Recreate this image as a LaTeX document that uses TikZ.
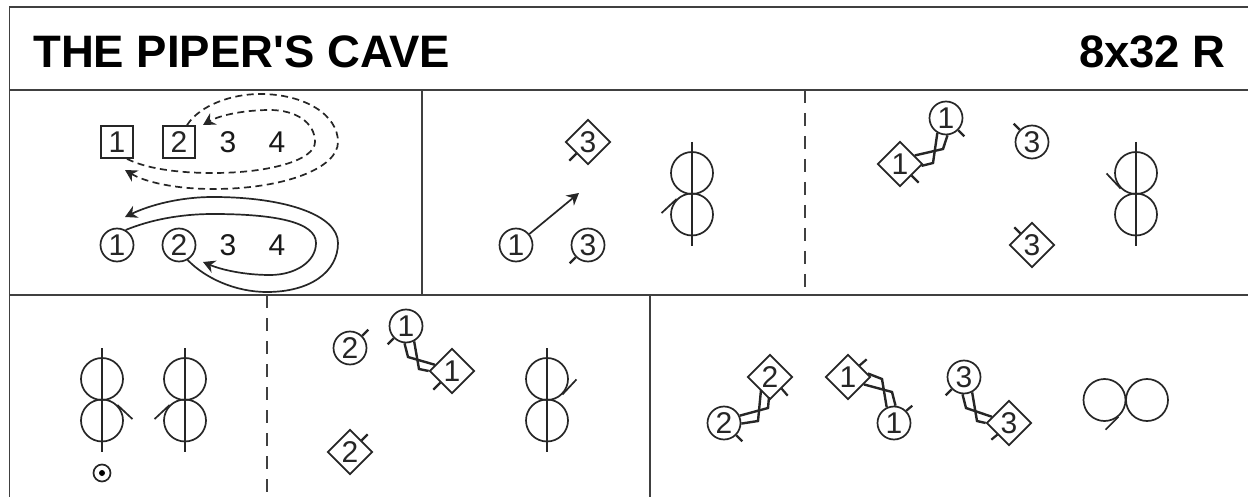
\documentclass[tikz,border=0pt]{standalone}
\usepackage{fontspec}
\setmainfont{Liberation Sans}
\newfontfamily\plainsans{Liberation Sans}
\usetikzlibrary{shapes.geometric,arrows.meta}
\tikzset{
  x=1pt,y=-1pt,
  ln/.style={line width=1.7pt,black!85},
  frameline/.style={line width=1.8pt,black!75},
  vdash/.style={line width=1.6pt,black!75,dash pattern=on 13pt off 10pt},
  ptext/.style={font=\fontsize{30}{30}\selectfont,text=black!90,inner sep=0pt},
  circ/.style={ptext,circle,draw,ln,minimum size=33pt},
  diam/.style={ptext,diamond,draw,ln,minimum size=45pt,aspect=1},
  sq/.style={ptext,rectangle,draw,ln,minimum size=32pt},
  ring/.style={circle,draw,ln,minimum size=42pt,inner sep=0pt},
  tick/.style={line width=2.2pt,black!85},
  hold/.style={line width=2.4pt,black!85,line join=miter},
  dsh/.style={ln,dash pattern=on 7pt off 4.5pt},
  arr/.style={-{Stealth[length=12pt,width=13pt,inset=4pt]}},
  title/.style={font=\plainsans\fontsize{45.5}{46}\selectfont\bfseries,text=black,inner sep=0pt}
}
% figure of eight: name, x, y of upper ring centre
\newcommand{\figeight}[3]{%
  \node[ring] (#1u) at (#2,#3) {};
  \node[ring] (#1l) at (#2,#3+41.5) {};
  \coordinate (#1t) at (#2,#3-31);
  \coordinate (#1b) at (#2,#3+73);
  \draw[ln] (#1t) -- (#1b);
}
\begin{document}
\begin{tikzpicture}
\useasboundingbox (0,0) rectangle (1248,497);
\fill[white] (0,0) rectangle (1248,497);
% frame
\coordinate (tl) at (9.5,7); \coordinate (tr) at (1248,7);
\coordinate (ml) at (9.5,90); \coordinate (mr) at (1248,90);
\coordinate (rl) at (9.5,295); \coordinate (rr) at (1248,295);
\coordinate (bl) at (9.5,497);
\draw[frameline] (bl) -- (tl) -- (tr);
\draw[frameline] (ml) -- (mr);
\draw[frameline] (rl) -- (rr);
\coordinate (v1t) at (422,90); \coordinate (v1b) at (422,295);
\coordinate (v2t) at (650,295); \coordinate (v2b) at (650,497);
\coordinate (d1t) at (805,90); \coordinate (d1b) at (805,295);
\coordinate (d2t) at (267,295); \coordinate (d2b) at (267,497);
\draw[frameline] (v1t) -- (v1b);
\draw[frameline] (v2t) -- (v2b);
\draw[vdash] (d1t) -- (d1b);
\draw[vdash] (d2t) -- (d2b);
% title
\node[title,anchor=west] (ttl) at (33,52) {THE PIPER'S CAVE};
\node[title,anchor=east] (tmp) at (1226,52) {8x32 R};
% panel 1
\node[sq] (s1) at (117,142) {1};
\node[sq] (s2) at (179,142) {2};
\node[ptext] (s3) at (228,142) {3};
\node[ptext] (s4) at (277,142) {4};
\node[circ] (o1) at (117,245) {1};
\node[circ] (o2) at (179,245) {2};
\node[ptext] (o3) at (228,245) {3};
\node[ptext] (o4) at (277,245) {4};
\coordinate (a1) at (125,170);
\coordinate (a2) at (203,125);
\coordinate (a3) at (125,217);
\coordinate (a4) at (203,262);
\draw[dsh,arr] (s2.north) ++(8,0) .. controls (200,105) and (232,94) .. (260,94)
   .. controls (305,94) and (338,115) .. (338,142)
   .. controls (338,168) and (285,189) .. (213,189)
   .. controls (175,189) and (145,182) .. (a1);
\draw[dsh,arr] (s1.south) ++(10,0) .. controls (145,168) and (175,173) .. (213,173)
   .. controls (270,173) and (315,160) .. (315,142)
   .. controls (315,122) and (295,110) .. (270,110)
   .. controls (245,110) and (220,115) .. (a2);
\draw[ln,arr] (o2.-60) .. controls (205,278) and (235,292) .. (267,292)
   .. controls (310,292) and (338,272) .. (338,243)
   .. controls (338,215) and (285,197) .. (213,197)
   .. controls (180,197) and (150,205) .. (a3);
\draw[ln,arr] (o1.60) .. controls (150,220) and (180,214) .. (213,214)
   .. controls (275,214) and (316,222) .. (316,243)
   .. controls (316,262) and (295,275) .. (270,275)
   .. controls (245,275) and (222,270) .. (a4);
% panel 2
\node[diam] (p2d3) at (588,142) {3};
\node[circ] (p2c1) at (516,245) {1};
\node[circ] (p2c3) at (588,245) {3};
\coordinate (p2a) at (579,193);
\draw[ln,arr] (p2c1) -- (p2a);
\draw[tick] (p2d3.-135) -- ++(-7,7);
\draw[tick] (p2c3.-135) -- ++(-6,6);
\figeight{fa}{692}{173}
\draw[ln] (fal.135) -- ++(-15,14);
% panel 3
\coordinate (p3m1) at (933,163); \coordinate (p3m2) at (943,149);
\node[circ] (p3c1) at (946,118) {1};
\node[diam] (p3d1) at (900,164) {1};
\node[circ] (p3c3) at (1032,142) {3};
\node[diam] (p3d3) at (1032,245) {3};
\draw[hold] (p3c1.-120) -- (p3m1) -- (p3d1.-5);
\draw[hold] (p3c1.-85) -- (p3m2) -- (p3d1.30);
\draw[tick] (p3c1.-45) -- ++(6,6);
\draw[tick] (p3d1.-45) -- ++(7,7);
\draw[tick] (p3c3.135) -- ++(-6,-6);
\draw[tick] (p3d3.135) -- ++(-6,-6);
\figeight{fb}{1136}{173}
\draw[ln] (fbu.-135) -- ++(-14,-15);
% panel 4
\figeight{fc}{102}{379}
\figeight{fd}{185}{379}
\draw[ln] (fcl.45) -- ++(15,14);
\draw[ln] (fdl.135) -- ++(-15,14);
\node[circle,draw,ln,minimum size=17pt,inner sep=0pt] (mk) at (102,473) {};
\node[circle,fill=black,minimum size=6pt,inner sep=0pt] (mkd) at (mk.center) {};
% panel 5
\node[circ] (p5c2) at (350,348) {2};
\node[circ] (p5c1) at (406,326) {1};
\node[diam] (p5d1) at (452,371) {1};
\node[diam] (p5d2) at (350,452) {2};
\coordinate (p5m1) at (408,357); \coordinate (p5m2) at (419,369);
\draw[hold] (p5c1.-95) -- (p5m1) -- (p5d1.160);
\draw[hold] (p5c1.-62) -- (p5m2) -- (p5d1.180);
\draw[tick] (p5c2.45) -- ++(6,-6);
\draw[tick] (p5c1.-135) -- ++(-6,6);
\draw[tick] (p5d1.-135) -- ++(-7,7);
\draw[tick] (p5d2.45) -- ++(6,-6);
\figeight{fe}{547}{379}
\draw[ln] (feu.-45) -- ++(14,-15);
% panel 6
\node[diam] (p6d2) at (770,377) {2};
\node[circ] (p6c2) at (724,423) {2};
\node[diam] (p6d1) at (848,377) {1};
\node[circ] (p6c1) at (894,423) {1};
\coordinate (p6m1) at (768,408); \coordinate (p6m2) at (758,421);
\coordinate (p6e1) at (769,397); \coordinate (p6e2) at (761,390);
\draw[hold] (p6c2.25) -- (p6m1) -- (p6e1);
\draw[hold] (p6c2.-2) -- (p6m2) -- (p6e2);
\coordinate (p6m3) at (882,379); \coordinate (p6m4) at (892,392);
\draw[hold] (p6d1.10) -- (p6m3) -- (p6c1.115);
\draw[hold] (p6d1.-25) -- (p6m4) -- (p6c1.85);
\draw[tick] (p6d2.-45) -- ++(6,7);
\draw[tick] (p6c2.-45) -- ++(6,6);
\draw[tick] (p6d1.45) -- ++(7,-6);
\draw[tick] (p6c1.45) -- ++(6,-5);
% panel 7
\node[circ] (p7c3) at (964,377) {3};
\node[diam] (p7d3) at (1009,423) {3};
\coordinate (p7m1) at (966,408); \coordinate (p7m2) at (977,421);
\draw[hold] (p7c3.-95) -- (p7m1) -- (p7d3.160);
\draw[hold] (p7c3.-62) -- (p7m2) -- (p7d3.180);
\draw[tick] (p7c3.-135) -- ++(-6,6);
\draw[tick] (p7d3.-135) -- ++(-6,5);
\node[ring] (fgl) at (1104.5,400) {};
\node[ring] (fgr) at (1147,400) {};
\draw[ln] (fgl.-50) -- ++(-13,13);
\end{tikzpicture}
\end{document}
